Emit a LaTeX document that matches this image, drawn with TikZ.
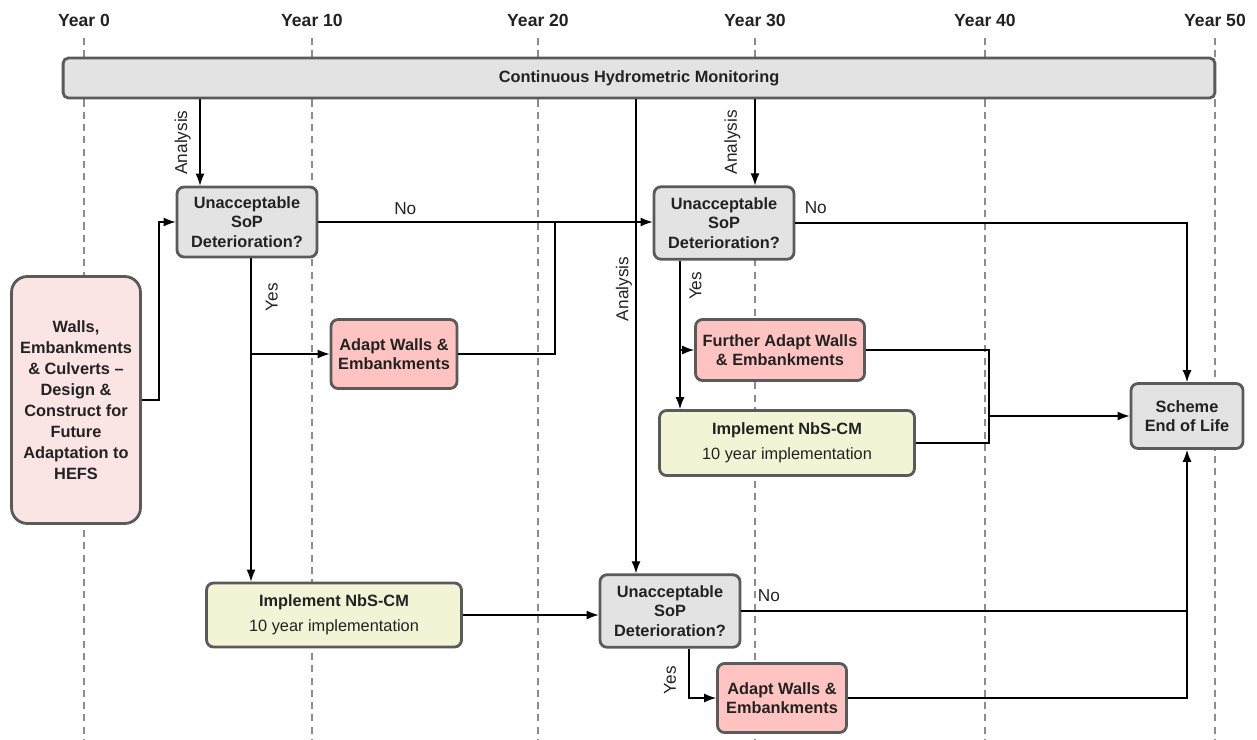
\documentclass[tikz,border=0pt]{standalone}
\usepackage{fontspec}
\setmainfont{Liberation Sans}
\usetikzlibrary{arrows.meta,calc}

\definecolor{boxline}{HTML}{5A5A5A}
\definecolor{greyfill}{HTML}{E3E3E3}
\definecolor{adaptfill}{HTML}{FFC4C1}
\definecolor{nbsfill}{HTML}{F2F5D5}
\definecolor{leftfill}{HTML}{FBE4E4}
\definecolor{gridgray}{HTML}{8C8C8C}
\definecolor{inktext}{HTML}{222222}

\tikzset{
  box/.style={draw=boxline, line width=1.6pt, rounded corners=4pt, align=center,
    inner sep=1pt, text=inktext, font=\fontsize{9.3}{11}\selectfont\bfseries},
  decision/.style={box, fill=greyfill, minimum width=2.8cm, minimum height=1.45cm},
  adapt/.style={box, fill=adaptfill},
  nbs/.style={box, fill=nbsfill, minimum width=5.1cm, minimum height=1.28cm},
  flow/.style={line width=0.7pt, -{Latex[length=2.4mm,width=1.8mm]}},
  link/.style={line width=0.7pt},
  lbl/.style={font=\fontsize{9.8}{11.5}\selectfont, text=inktext, inner sep=2pt},
  yearlbl/.style={font=\fontsize{10}{12}\selectfont\bfseries, text=inktext},
  yearline/.style={gridgray, line width=0.8pt, dash pattern=on 4pt off 3pt}
}

\begin{document}
\begin{tikzpicture}[x=0.02cm, y=-0.02cm]
  \useasboundingbox (0,0) rectangle (1257,740);
  % Timeline
  \foreach \xx/\yr in {84/0, 312/10, 538/20, 755/30, 985/40, 1215/50} {
    \draw[yearline] (\xx,38) -- (\xx,740);
    \node[yearlbl] (year\yr) at (\xx,20) {Year \yr};
  }
  % Monitoring bar
  \node[box, fill=greyfill, minimum width=23.04cm, minimum height=0.8cm,
    rounded corners=3pt] (monitor) at (639,78) {Continuous Hydrometric Monitoring};
  % Initial scheme
  \node[box, fill=leftfill, minimum width=2.58cm, minimum height=4.94cm,
    rounded corners=9pt, font=\fontsize{9.3}{11.9}\selectfont\bfseries] (walls) at (76,400)
    {Walls,\\ Embankments\\ \& Culverts --\\ Design \&\\ Construct for\\ Future\\ Adaptation to\\ HEFS};
  % Decisions
  \node[decision, minimum height=1.4cm] (decA) at (247,222) {Unacceptable\\ SoP\\ Deterioration?};
  \node[decision] (decB) at (724,223) {Unacceptable\\ SoP\\ Deterioration?};
  \node[decision] (decC) at (670,611) {Unacceptable\\ SoP\\ Deterioration?};
  % Adaptations
  \node[adapt, minimum width=2.52cm, minimum height=1.38cm] (adaptA) at (394,354) {Adapt Walls \&\\ Embankments};
  \node[adapt, minimum width=3.38cm, minimum height=1.22cm] (adaptB) at (780,350) {Further Adapt Walls\\ \& Embankments};
  \node[adapt, minimum width=2.58cm, minimum height=1.38cm] (adaptC) at (782,698) {Adapt Walls \&\\ Embankments};
  % NbS-CM
  \node[nbs] (nbsA) at (334,615) {Implement NbS-CM\\[3pt] {\mdseries 10 year implementation}};
  \node[nbs, minimum height=1.3cm] (nbsB) at (787,443) {Implement NbS-CM\\[3pt] {\mdseries 10 year implementation}};
  % End
  \node[box, fill=greyfill, minimum width=2.24cm, minimum height=1.3cm] (endlife) at (1187,416) {Scheme\\ End of Life};

  % Analysis arrows
  \coordinate (anA) at (200,0);
  \coordinate (anB) at (636,0);
  \coordinate (anC) at (755,0);
  \draw[flow] (monitor.south -| anA) -- node[lbl, rotate=90, above=3pt] {Analysis} (decA.north -| anA);
  \draw[flow] (monitor.south -| anB) -- node[lbl, rotate=90, above=0pt, pos=0.4] {Analysis} (decC.north -| anB);
  \draw[flow] (monitor.south -| anC) -- node[lbl, rotate=90, above=6pt] {Analysis} (decB.north -| anC);

  % First decision
  \draw[flow] (walls.east) -- ++(17,0) |- (decA.west);
  \draw[flow] (decA.east) -- node[lbl, above, pos=0.26, yshift=2pt] {No} (decA.east -| decB.west);
  \coordinate (joinA) at (555,0);
  \draw[link] (adaptA.east) -| (joinA |- decA.east);
  \coordinate (yesA) at (251,0);
  \draw[flow] (decA.south -| yesA) -- node[lbl, rotate=90, below=6pt, pos=0.12] {Yes} (nbsA.north -| yesA);
  \draw[flow] (adaptA.west -| yesA) -- (adaptA.west);
  \draw[flow] (nbsA.east) -- (decC.west |- nbsA.east);

  % Second decision
  \draw[flow] (decB.east) -| node[lbl, pos=0, anchor=south west, xshift=3pt, yshift=3pt] {No} (endlife.north);
  \coordinate (yesB) at (680,0);
  \draw[flow] (decB.south -| yesB) -- node[lbl, rotate=90, below=3pt, pos=0.17] {Yes} (nbsB.north -| yesB);
  \draw[flow] (adaptB.west -| yesB) -- (adaptB.west);
  \coordinate (joinB) at (989,0);
  \draw[link] (adaptB.east) -| (joinB |- nbsB.east) -- (nbsB.east);
  \draw[flow] (joinB |- endlife.west) -- (endlife.west);

  % Third decision
  \coordinate (yesC) at (689,0);
  \draw[flow] (decC.south -| yesC) |- node[lbl, rotate=90, above=5pt, pos=0.32] {Yes} (adaptC.west);
  \draw[flow] (adaptC.east) -| (endlife.south);
  \draw[link] (decC.east) -- node[lbl, pos=0, anchor=south west, xshift=7pt, yshift=3pt] {No} (decC.east -| endlife.south);
\end{tikzpicture}
\end{document}
